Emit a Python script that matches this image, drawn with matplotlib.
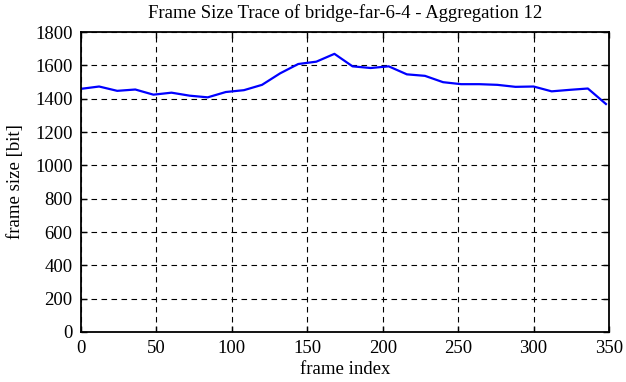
import matplotlib.pyplot as plt
import numpy as np

plt.rcParams['font.family'] = 'Liberation Serif'

# aggregated frame sizes, one value every 12 frames
frame_idx = np.arange(0, 360, 12)
frame_size = [1459, 1473, 1447, 1455, 1424, 1436, 1418, 1408, 1440, 1451,
              1483, 1552, 1608, 1622, 1669, 1594, 1584, 1594, 1546, 1537,
              1499, 1487, 1487, 1483, 1471, 1473, 1444, 1453, 1461, 1368]

fig = plt.figure(figsize=(6.26, 3.82), dpi=100)
ax = fig.add_axes([0.1294, 0.1309, 0.8434, 0.7853])

ax.plot(frame_idx, frame_size, color='#0000ff', linewidth=1.6)

ax.set_xlim(0, 350)
ax.set_ylim(0, 1800)
ax.set_xticks(np.arange(0, 351, 50))
ax.set_yticks(np.arange(0, 1801, 200))
ax.grid(True, color='black', linestyle=(0, (5, 4)), linewidth=0.8)
ax.tick_params(direction='in', length=4, width=1, top=True, right=True,
               labelsize=13.5, pad=6)
for s in ax.spines.values():
    s.set_linewidth(1.3)

ax.set_xlabel('frame index', fontsize=13.5, labelpad=3)
ax.set_ylabel('frame size [bit]', fontsize=13.5, labelpad=8)
ax.set_title('Frame Size Trace of bridge-far-6-4 - Aggregation 12', fontsize=13.5, pad=10)

fig.savefig('out.png', dpi=100)
